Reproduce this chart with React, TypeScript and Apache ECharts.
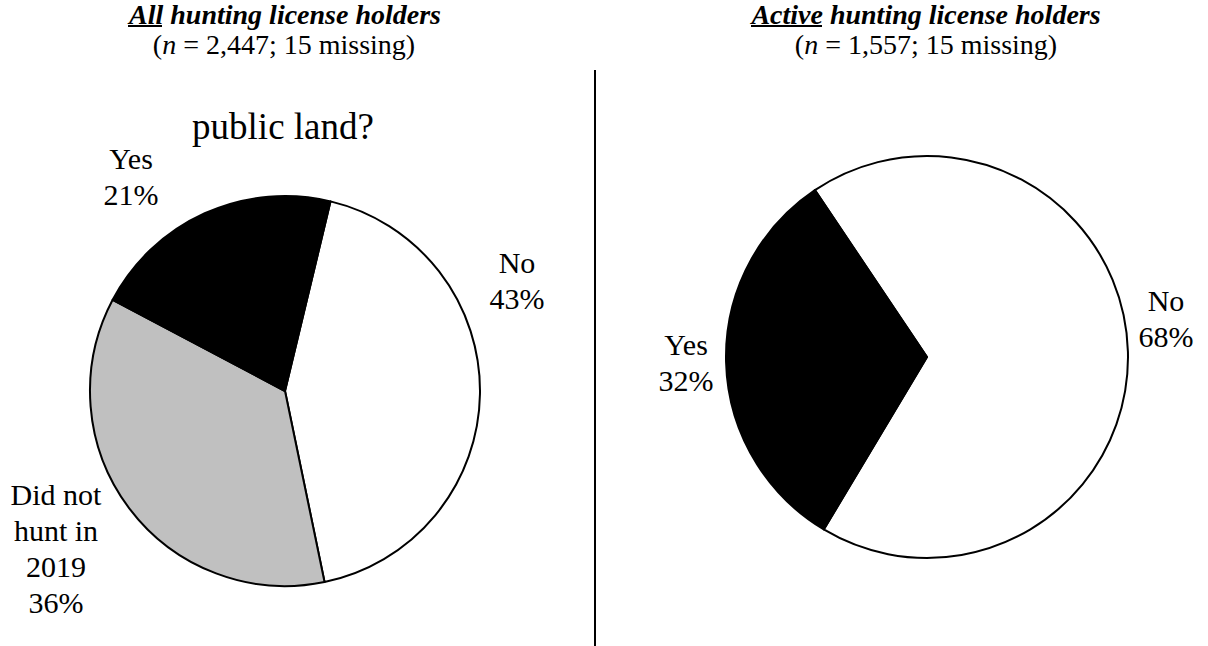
import React, { useEffect, useRef } from "react";
import * as echarts from "echarts";

const allCategories = ["No", "Did not\nhunt in\n2019", "Yes"];
const allValues = [43, 36, 21];
const allColors = ["#ffffff", "#c0c0c0", "#000000"];

const activeCategories = ["No", "Yes"];
const activeValues = [68, 32];
const activeColors = ["#ffffff", "#000000"];

const allLabelPos = [
  [517, 280],
  [56, 548],
  [131, 176],
];
const activeLabelPos = [
  [1166, 318],
  [686, 362],
];

const FONT = "'Liberation Serif', 'Times New Roman', serif";
const HEAD = 28;

export default function App() {
  const ref = useRef<HTMLDivElement>(null);
  useEffect(() => {
    document.body.style.margin = "0";
    const chart = echarts.init(ref.current!, null, { renderer: "svg" });
    const labelFmt = (p: any) => `${p.name}\n${Math.round(p.percent)}%`;
    const mkSeries = (
      cats: string[],
      vals: number[],
      cols: string[],
      center: number[],
      radius: number,
      startAngle: number,
      pos: number[][]
    ) => ({
      type: "pie",
      center,
      radius,
      startAngle,
      silent: true,
      data: vals.map((v, i) => ({
        name: cats[i],
        value: v,
        itemStyle: { color: cols[i] },
      })),
      itemStyle: { borderColor: "#000", borderWidth: 2 },
      label: {
        show: true,
        position: "inside",
        formatter: labelFmt,
        color: "#000",
        fontFamily: FONT,
        fontSize: 30,
        lineHeight: 36,
        align: "center",
        overflow: "none",
      },
      labelLine: { show: false },
      labelLayout: (params: any) => ({
        x: pos[params.dataIndex][0],
        y: pos[params.dataIndex][1],
        align: "center",
        verticalAlign: "middle",
      }),
    });
    const sub = (text: string, x: number) => ({
      type: "text",
      x,
      y: 44,
      style: {
        text,
        font: `${HEAD}px ${FONT}`,
        fill: "#000",
        align: "center",
        verticalAlign: "middle",
        rich: { i: { fontStyle: "italic", fontSize: HEAD, fontFamily: FONT } },
      },
    });
    chart.setOption({
      animation: false,
      backgroundColor: "#fff",
      series: [
        mkSeries(allCategories, allValues, allColors, [285, 391], 195, 76.5, allLabelPos),
        mkSeries(activeCategories, activeValues, activeColors, [927, 357], 201, 123.9, activeLabelPos),
      ],
      graphic: [
        {
          type: "text",
          x: 285,
          y: 14,
          style: {
            text: "All hunting license holders",
            font: `italic bold ${HEAD}px ${FONT}`,
            fill: "#000",
            align: "center",
            verticalAlign: "middle",
          },
        },
        {
          type: "line",
          shape: { x1: 128, y1: 26, x2: 162, y2: 26 },
          style: { stroke: "#000", lineWidth: 2 },
        },
        sub("({i|n} = 2,447; 15 missing)", 284),
        {
          type: "text",
          x: 926,
          y: 14,
          style: {
            text: "Active hunting license holders",
            font: `italic bold ${HEAD}px ${FONT}`,
            fill: "#000",
            align: "center",
            verticalAlign: "middle",
          },
        },
        {
          type: "line",
          shape: { x1: 751, y1: 26, x2: 822, y2: 26 },
          style: { stroke: "#000", lineWidth: 2 },
        },
        sub("({i|n} = 1,557; 15 missing)", 926),
        {
          type: "text",
          x: 283,
          y: 126,
          style: {
            text: "public land?",
            font: `37px ${FONT}`,
            fill: "#000",
            align: "center",
            verticalAlign: "middle",
          },
        },
        {
          type: "line",
          shape: { x1: 595, y1: 70, x2: 595, y2: 646 },
          style: { stroke: "#000", lineWidth: 2 },
        },
      ],
    });
    return () => chart.dispose();
  }, []);
  return <div ref={ref} style={{ width: 1208, height: 646 }} />;
}
